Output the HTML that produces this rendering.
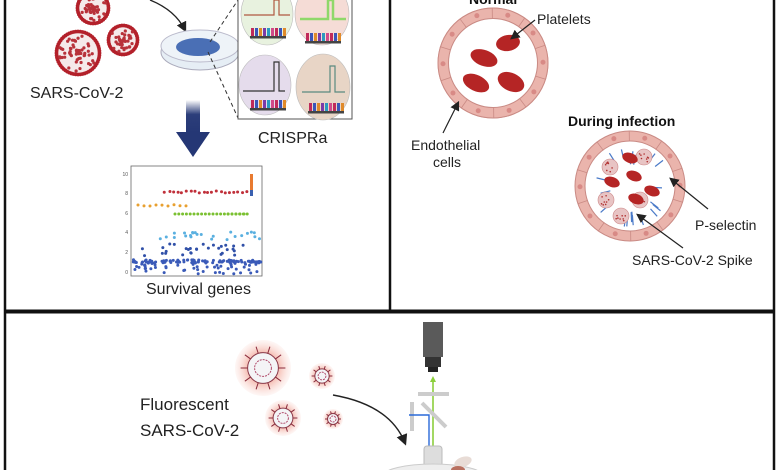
<!DOCTYPE html>
<html><head><meta charset="utf-8"><style>
html,body{margin:0;padding:0;background:#fff;}
svg{display:block;font-family:"Liberation Sans",Arial,sans-serif;}
</style></head><body>
<svg id="s" width="780" height="470" viewBox="0 0 780 470" xmlns="http://www.w3.org/2000/svg">
<defs>
<radialGradient id="glow"><stop offset="0.5" stop-color="#f4b4a8"/><stop offset="1" stop-color="#fbe3de" stop-opacity="0.3"/></radialGradient>
<linearGradient id="arr" x1="0" y1="0" x2="0" y2="1"><stop offset="0" stop-color="#fff"/><stop offset="0.45" stop-color="#2c3e7a"/><stop offset="1" stop-color="#253775"/></linearGradient>
<marker id="ah" markerWidth="8" markerHeight="8" refX="6" refY="4" orient="auto"><path d="M0,0 L8,4 L0,8 z" fill="#222"/></marker>
</defs>
<g stroke="#111" stroke-width="2.5" fill="none">
<line x1="5" y1="0" x2="5" y2="470"/>
<line x1="774" y1="0" x2="774" y2="470"/>
<line x1="390" y1="0" x2="390" y2="310"/>
</g>
<line x1="5" y1="311.5" x2="774" y2="311.5" stroke="#111" stroke-width="4"/>
<g id="vir"></g>
<text x="30" y="98" font-size="16" fill="#222">SARS-CoV-2</text>
<path d="M150,0 Q175,10 185,30" stroke="#222" stroke-width="1.3" fill="none" marker-end="url(#ah)"/>
<ellipse cx="200" cy="52" rx="39" ry="18" fill="#e6eef5" stroke="#aab" stroke-width="1"/>
<ellipse cx="200" cy="46" rx="39" ry="16" fill="#eef3f8" stroke="#bbc" stroke-width="1"/>
<ellipse cx="198" cy="47" rx="22" ry="9" fill="#4a6fb5"/>
<line x1="210" y1="42" x2="238" y2="0" stroke="#333" stroke-dasharray="4,3"/>
<line x1="208" y1="52" x2="238" y2="118" stroke="#333" stroke-dasharray="4,3"/>
<rect x="238" y="-2" width="114" height="121" fill="#fff" stroke="#555" stroke-width="1"/>
<ellipse cx="267" cy="14" rx="26" ry="31" fill="#e8f2df" stroke="#bbb" stroke-width="0.6"/>
<ellipse cx="322" cy="14" rx="27" ry="31" fill="#f5dcd6" stroke="#bbb" stroke-width="0.6"/>
<ellipse cx="265" cy="85" rx="26" ry="30" fill="#e5dcec" stroke="#bbb" stroke-width="0.6"/>
<ellipse cx="323" cy="87" rx="27" ry="33" fill="#e8d5c6" stroke="#bbb" stroke-width="0.6"/>
<g stroke-width="1.2" fill="none">
<path d="M244,15 H274 V0 H279 V15 H290" stroke="#b05a40"/>
<path d="M300,19 H328 V0 H333 V19 H346" stroke="#8fd86a" stroke-width="2.5"/>
<path d="M243,91 H274 V62 H279 V91 H285" stroke="#333"/>
<path d="M302,92 H330 V66 H335 V92 H345" stroke="#5a8a80"/>
</g>
<g id="dna"></g>
<text x="258" y="143" font-size="16" fill="#222">CRISPRa</text>
<rect x="186" y="100" width="14" height="32" fill="url(#arr)"/>
<path d="M176,132 H210 L193,157 Z" fill="#253775"/>
<rect x="131" y="166" width="131" height="110" fill="#fff" stroke="#666" stroke-width="0.8"/>
<g font-size="5" fill="#555" text-anchor="end">
<text x="128" y="176">10</text><text x="128" y="195">8</text><text x="128" y="215">6</text><text x="128" y="234">4</text><text x="128" y="254">2</text><text x="128" y="274">0</text>
</g>
<rect x="250" y="174" width="3" height="22" fill="#e87a30"/>
<rect x="250" y="190" width="3" height="6" fill="#3a60b0"/>
<g id="dots"></g>
<text x="146" y="294" font-size="16" fill="#222">Survival genes</text>
<text x="469" y="4" font-size="14" font-weight="bold" fill="#111">Normal</text>
<circle cx="493" cy="63" r="50" fill="none" stroke="#eab4ac" stroke-width="11"/>
<circle cx="493" cy="63" r="55" fill="none" stroke="#c98a84" stroke-width="1"/>
<circle cx="493" cy="63" r="44.5" fill="none" stroke="#c98a84" stroke-width="1"/>
<g id="cellsN"></g>
<g fill="#b52525">
<ellipse cx="508" cy="43" rx="12" ry="8" transform="rotate(-10 508 43)"/>
<ellipse cx="484" cy="58" rx="14" ry="8" transform="rotate(20 484 58)"/>
<ellipse cx="476" cy="83" rx="14" ry="8" transform="rotate(25 476 83)"/>
<ellipse cx="511" cy="82" rx="14" ry="9" transform="rotate(25 511 82)"/>
</g>
<line x1="535" y1="20" x2="512" y2="38" stroke="#222" stroke-width="1.2" marker-end="url(#ah)"/>
<text x="537" y="24" font-size="14" fill="#222">Platelets</text>
<line x1="443" y1="133" x2="458" y2="103" stroke="#222" stroke-width="1.2" marker-end="url(#ah)"/>
<text x="411" y="150" font-size="14" fill="#222">Endothelial</text>
<text x="433" y="167" font-size="14" fill="#222">cells</text>
<text x="568" y="126" font-size="14" font-weight="bold" fill="#111">During infection</text>
<circle cx="630" cy="186" r="50" fill="none" stroke="#eab4ac" stroke-width="10"/>
<circle cx="630" cy="186" r="55" fill="none" stroke="#c98a84" stroke-width="1"/>
<circle cx="630" cy="186" r="45" fill="none" stroke="#c98a84" stroke-width="1"/>
<g id="inf"></g>
<line x1="708" y1="209" x2="671" y2="179" stroke="#222" stroke-width="1.2" marker-end="url(#ah)"/>
<text x="695" y="230" font-size="14" fill="#222">P-selectin</text>
<line x1="683" y1="248" x2="638" y2="215" stroke="#222" stroke-width="1.2" marker-end="url(#ah)"/>
<text x="632" y="265" font-size="14" fill="#222">SARS-CoV-2 Spike</text>
<g id="fv"></g>
<text x="140" y="410" font-size="17" fill="#222">Fluorescent</text>
<text x="140" y="436" font-size="17" fill="#222">SARS-CoV-2</text>
<path d="M333,395 Q390,405 405,443" stroke="#222" stroke-width="1.4" fill="none" marker-end="url(#ah)"/>
<rect x="423" y="322" width="20" height="35" fill="#5a5a5a"/>
<rect x="425" y="357" width="16" height="10" fill="#333"/>
<rect x="428" y="367" width="10" height="5" fill="#222"/>
<line x1="433" y1="470" x2="433" y2="378" stroke="#8ccf3c" stroke-width="1.6"/>
<path d="M430,382 L433,376 L436,382 Z" fill="#8ccf3c"/>
<rect x="418" y="392" width="31" height="4" fill="#ccc"/>
<rect x="410" y="402" width="4" height="29" fill="#ccc"/>
<line x1="422" y1="403" x2="446" y2="427" stroke="#ccc" stroke-width="4"/>
<path d="M409,415 H429 V470" stroke="#2a6ad8" stroke-width="1.4" fill="none"/>
<rect x="424" y="446" width="18" height="24" rx="3" fill="#ddd" stroke="#bbb"/>
<ellipse cx="433" cy="476" rx="50" ry="12" fill="#eee" stroke="#ccc"/>
<ellipse cx="463" cy="462" rx="9" ry="5" fill="#e8dcd6" transform="rotate(-20 463 462)"/>
<ellipse cx="458" cy="470" rx="7" ry="4" fill="#b87060"/>
</svg>
<script>
var NS="http://www.w3.org/2000/svg";
function el(p,t,a){var e=document.createElementNS(NS,t);for(var k in a)e.setAttribute(k,a[k]);p.appendChild(e);return e;}
var seed=7;function r(){seed=(seed*9301+49297)%233280;return seed/233280;}
var vg=document.getElementById('vir');
[[93,8,17],[78,53,23],[123,40,16]].forEach(function(v){
 el(vg,'circle',{cx:v[0],cy:v[1],r:v[2],fill:'#f5eaea'});
 var n=Math.round(v[2]*2.6);
 for(var i=0;i<n;i++){var a=i/n*6.283,rr=v[2]-1.5;el(vg,'circle',{cx:v[0]+rr*Math.cos(a),cy:v[1]+rr*Math.sin(a),r:1.9,fill:'#b3202a'});}
 for(var i=0;i<v[2]*2.5;i++){var a=r()*6.283,d=r()*v[2]*0.82;el(vg,'circle',{cx:v[0]+d*Math.cos(a),cy:v[1]+d*Math.sin(a),r:1.6,fill:'#b8323a'});}
});
function cells(g,cx,cy,R,n){for(var i=0;i<n;i++){var a=i/n*6.283+0.3;
 el(g,'line',{x1:cx+(R-5.5)*Math.cos(a),y1:cy+(R-5.5)*Math.sin(a),x2:cx+(R+5.5)*Math.cos(a),y2:cy+(R+5.5)*Math.sin(a),stroke:'#c98a84','stroke-width':0.8});
 var b=a+3.1416/n;el(g,'circle',{cx:cx+R*Math.cos(b),cy:cy+R*Math.sin(b),r:2.5,fill:'#d88a86'});}}
cells(document.getElementById('cellsN'),493,63,50,10);
var dg=document.getElementById('dna');var cols=['#c02a5a','#3a55b8','#e08a2a','#7a3aa8','#2a9ac0','#d04a8a'];
[[250,28],[305,33],[250,100],[308,103]].forEach(function(d){
 el(dg,'rect',{x:d[0],y:d[1]+8,width:36,height:2.5,fill:'#444'});
 for(var i=0;i<9;i++)el(dg,'rect',{x:d[0]+1+i*4,y:d[1],width:3,height:8,fill:cols[i%6]});
});
var pg=document.getElementById('dots');
function dot(x,y,c){el(pg,'circle',{cx:x,cy:y,r:1.5,fill:c});}
for(var i=0;i<20;i++)dot(164+i*4.3+r()*2,193-r()*2,'#c0303a');
for(var i=0;i<9;i++)dot(138+i*6,206-r()*2,'#e8a030');
for(var i=0;i<20;i++)dot(175+i*3.8,214,'#7ac030');
for(var i=0;i<5;i++)dot(228+i*4,214,'#7ac030');
for(var i=0;i<25;i++)dot(160+r()*100,232+r()*8,'#5ab0e0');
for(var i=0;i<30;i++)dot(134+r()*126,244+r()*12,'#3050a8');
for(var i=0;i<160;i++)dot(133+r()*128,262+Math.pow(r(),2)*12*(r()<.5?1:-0.2),'#3a5ab8');
var ig=document.getElementById('inf');
cells(ig,630,186,50,10);
for(var i=0;i<22;i++){var a=r()*6.283,d=30+r()*12,x=630+d*Math.cos(a),y=186+d*Math.sin(a);
 el(ig,'line',{x1:x,y1:y,x2:630+(d-10)*Math.cos(a),y2:186+(d-10)*Math.sin(a),stroke:'#4a7ac8','stroke-width':1.2});}
[[610,167],[644,157],[606,200],[640,200],[621,216]].forEach(function(p){el(ig,'circle',{cx:p[0],cy:p[1],r:8,fill:'#e8c4c4',stroke:'#c88','stroke-width':0.6});
 for(var k=0;k<8;k++)el(ig,'circle',{cx:p[0]-5+r()*10,cy:p[1]-5+r()*10,r:0.8,fill:'#b03030'});});
[[630,158],[612,182],[634,176],[652,191],[636,199]].forEach(function(p){el(ig,'ellipse',{cx:p[0],cy:p[1],rx:8,ry:5,fill:'#b52525',transform:'rotate(20 '+p[0]+' '+p[1]+')'});});
var fg=document.getElementById('fv');
[[263,368,28],[322,376,13],[283,418,18],[333,419,10]].forEach(function(v){
 el(fg,'circle',{cx:v[0],cy:v[1],r:v[2],fill:'url(#glow)'});
 el(fg,'circle',{cx:v[0],cy:v[1],r:v[2]*0.55,fill:'#f4f4f6',stroke:'#8a3a4a','stroke-width':1});
 for(var i=0;i<10;i++){var a=i/10*6.283,r1=v[2]*0.55,r2=v[2]*0.8;
  el(fg,'line',{x1:v[0]+r1*Math.cos(a),y1:v[1]+r1*Math.sin(a),x2:v[0]+r2*Math.cos(a),y2:v[1]+r2*Math.sin(a),stroke:'#8a2a3a','stroke-width':1});}
 el(fg,'circle',{cx:v[0],cy:v[1],r:v[2]*0.3,fill:'none',stroke:'#b04a6a','stroke-width':1,'stroke-dasharray':'2,1'});
});
</script>
</body></html>
